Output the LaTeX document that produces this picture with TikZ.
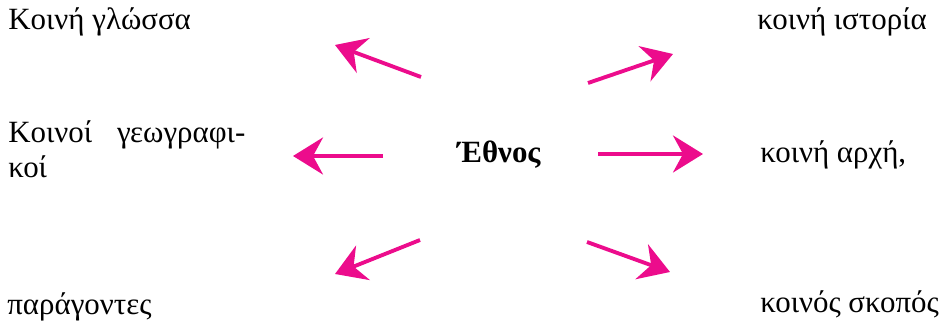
\documentclass[tikz,border=0pt]{standalone}
\usepackage{fontspec}
\setmainfont{Liberation Serif}
\usetikzlibrary{arrows.meta}

\definecolor{rayred}{RGB}{236,12,140}

\begin{document}
\begin{tikzpicture}[x=0.02cm, y=-0.02cm,
	lbl/.style={anchor=base west, inner sep=0pt, font=\fontsize{17.6}{19.5}\selectfont},
	ray/.style={draw=rayred, line width=2.2pt, -{Stealth[length=0.6cm, width=0.74cm, inset=0.2cm]}}]
	\useasboundingbox (0,0) rectangle (951,323);

\node[lbl] (glossa) at (8,30) {Κοινή γλώσσα};
\node[lbl] (istoria) at (757,30) {κοινή ιστορία};
\node[lbl, text width=4.74cm, align=left] (geo) at (8,143) {Κοινοί\hfill γεωγραφι-\\κοί};
\node[lbl] (archi) at (760,163) {κοινή αρχή,};
\node[lbl] (paragontes) at (7,315) {παράγοντες};
\node[lbl] (skopos) at (760,313) {κοινός σκοπός};
\node[lbl, font=\fontsize{17.6}{19.5}\selectfont\bfseries] (ethnos) at (457,163) {Έθνος};

%	tails and tips of the rays
\coordinate (ul1) at (421,77);	\coordinate (ul2) at (335,45);
\coordinate (ur1) at (588,83);	\coordinate (ur2) at (673,54);
\coordinate (ml1) at (383,156);	\coordinate (ml2) at (293,156);
\coordinate (mr1) at (598,154);	\coordinate (mr2) at (703,154);
\coordinate (dl1) at (420,240);	\coordinate (dl2) at (335,274);
\coordinate (dr1) at (587,242);	\coordinate (dr2) at (670,272);

\draw[ray] (ul1) -- (ul2);
\draw[ray] (ur1) -- (ur2);
\draw[ray] (ml1) -- (ml2);
\draw[ray] (mr1) -- (mr2);
\draw[ray] (dl1) -- (dl2);
\draw[ray] (dr1) -- (dr2);

\end{tikzpicture}
\end{document}
